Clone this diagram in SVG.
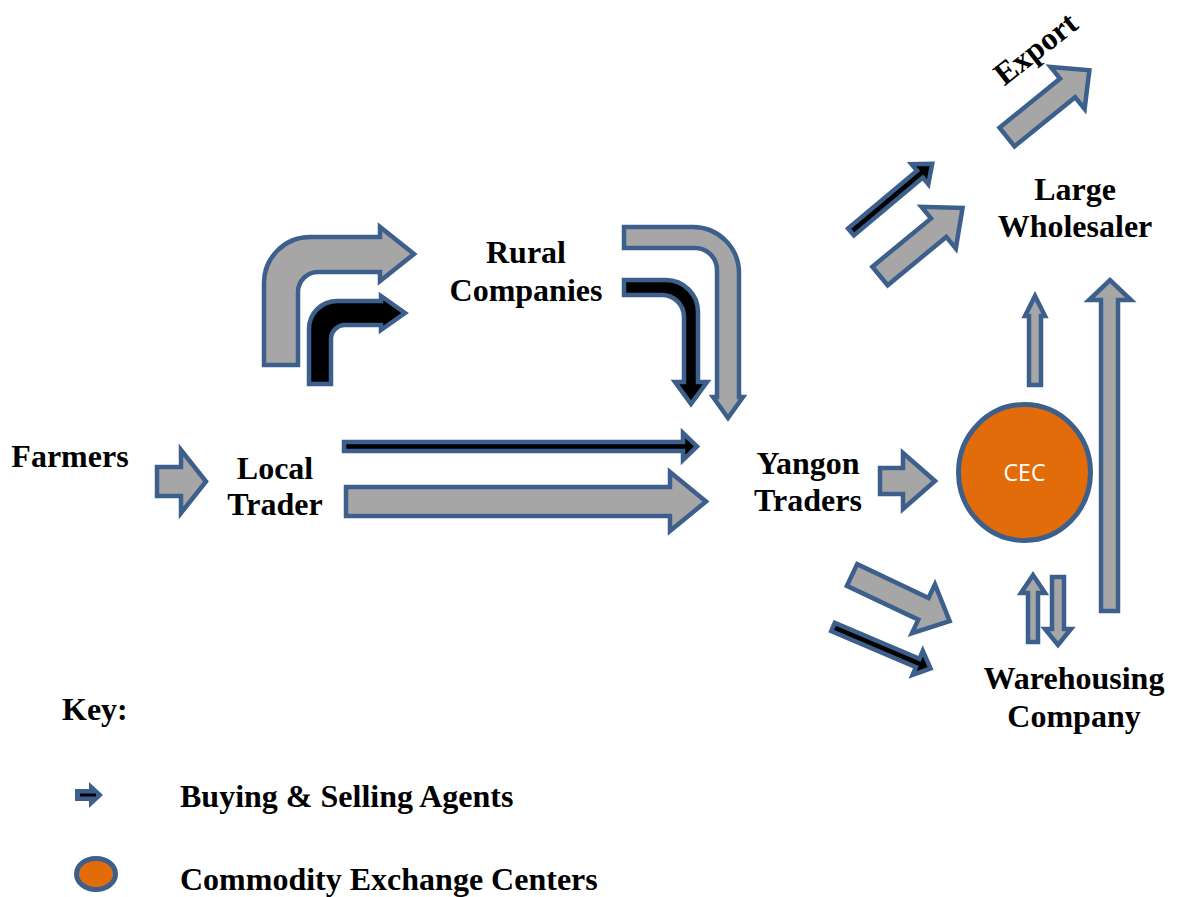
<svg xmlns="http://www.w3.org/2000/svg" width="1182" height="897" viewBox="0 0 1182 897">
  <style>
    .g { fill:#A6A6A6; stroke:#3C5F8C; stroke-width:4.5; stroke-linejoin:miter; }
    .k { fill:#000000; stroke:#3C5F8C; stroke-width:4.5; stroke-linejoin:miter; }
    .lbl { font-family:"Liberation Serif","Times New Roman",serif; font-weight:bold; font-size:32px; fill:#000000; }
    .mid { text-anchor:middle; }
    .cec { fill:#E36C0A; stroke:#3C5F8C; stroke-width:5; }
  </style>
  <rect width="1182" height="897" fill="#FFFFFF"/>

  <!-- flow arrows -->
  <g id="connectors">
    <!-- farmers to local trader -->
    <path class="g" d="M157,467 H181 V450 L206,481.5 L181,513 V496 H157 Z"/>
    <!-- local trader to yangon traders (agents + direct) -->
    <path class="k" d="M344,442 H683 V433 L697,446.5 L683,460 V451 H344 Z"/>
    <path class="g" d="M346,487 H670 V472 L706,501.5 L670,531 V516 H346 Z"/>
    <!-- local trader up to rural companies -->
    <path class="g" d="M264,365 V283 A46,46 0 0 1 310,237 H380 V227 L414,254 L380,281 V272 H318 A20,20 0 0 0 298,292 V365 Z"/>
    <path class="k" d="M309,384 V329 A28,28 0 0 1 337,301 H381 V296 L405,313 L381,330 V325 H345 A14,14 0 0 0 331,339 V384 Z"/>
    <!-- rural companies down to yangon traders -->
    <path class="g" d="M624,227 H693 A46,46 0 0 1 739,273 V397 H743 L728,418 L713,397 H717 V270 A22,22 0 0 0 695,248 H624 Z"/>
    <path class="k" d="M624,280 H666 A32,32 0 0 1 698,312 V382 H707 L691,404 L675,382 H684 V317 A22,22 0 0 0 662,295 H624 Z"/>
    <!-- yangon traders to CEC -->
    <path class="g" d="M880,468 H903 V453 L935,481 L903,509 V494 H880 Z"/>
    <!-- yangon traders to large wholesaler -->
    <path class="k" d="M0,-4.5 H90 V-13 L106,0 L90,13 V4.5 H0 Z" transform="translate(851,232) rotate(-40)"/>
    <path class="g" d="M0,-12 H76 V-27 L107,0 L76,27 V12 H0 Z" transform="translate(880,276) rotate(-39.5)"/>
    <!-- large wholesaler to export -->
    <path class="g" d="M0,-12 H78 V-27 L106,0 L78,27 V12 H0 Z" transform="translate(1007,137) rotate(-39)"/>
    <!-- yangon traders to warehousing company -->
    <path class="g" d="M0,-12 H79 V-27 L108,0 L79,27 V12 H0 Z" transform="translate(852,575) rotate(25.3)"/>
    <path class="k" d="M0,-4.5 H92 V-13 L106,0 L92,13 V4.5 H0 Z" transform="translate(833,627) rotate(23)"/>
    <!-- CEC to large wholesaler -->
    <path class="g" d="M1029,385 V316 H1025 L1035,296 L1045,316 H1041 V385 Z"/>
    <!-- warehousing company to large wholesaler -->
    <path class="g" d="M1101,611 V300 H1089 L1110,280 L1131,300 H1118 V611 Z"/>
    <!-- warehousing company to / from CEC -->
    <path class="g" d="M1028,642 V593 H1021 L1033,575 L1045,593 H1038 V642 Z"/>
    <path class="g" d="M1052,577 V629 H1045 L1058,645 L1071,629 H1064 V577 Z"/>
  </g>

  <g id="farmers"><text class="lbl mid" x="70" y="467">Farmers</text></g>
  <g id="local-trader">
    <text class="lbl mid" x="275" y="479">Local</text>
    <text class="lbl mid" x="275" y="515">Trader</text>
  </g>
  <g id="rural-companies">
    <text class="lbl mid" x="526" y="263">Rural</text>
    <text class="lbl mid" x="526" y="301">Companies</text>
  </g>
  <g id="yangon-traders">
    <text class="lbl mid" x="808" y="474">Yangon</text>
    <text class="lbl mid" x="808" y="511">Traders</text>
  </g>
  <g id="large-wholesaler">
    <text class="lbl mid" x="1075" y="200">Large</text>
    <text class="lbl mid" x="1075" y="237">Wholesaler</text>
  </g>
  <g id="export">
    <text class="lbl mid" x="0" y="0" transform="translate(1042,57) rotate(-38)">Export</text>
  </g>
  <g id="cec">
    <ellipse class="cec" cx="1024.5" cy="472.5" rx="66" ry="68"/>
    <text x="1024.5" y="481" text-anchor="middle" font-family="'Open Sans','Noto Sans',sans-serif" font-size="23" fill="#FFFFFF">CEC</text>
  </g>
  <g id="warehousing-company">
    <text class="lbl mid" x="1074" y="689">Warehousing</text>
    <text class="lbl mid" x="1074" y="727">Company</text>
  </g>

  <!-- legend -->
  <g id="key">
    <text class="lbl" x="62" y="720">Key:</text>
    <path d="M75,789 H89 V782 L103,795 L89,808 V801 H75 Z" fill="#3C5F8C"/>
    <line x1="80" y1="795" x2="96" y2="795" stroke="#000000" stroke-width="3"/>
    <text class="lbl" x="180" y="807">Buying &amp; Selling Agents</text>
    <ellipse class="cec" cx="96" cy="874" rx="19.5" ry="15.5"/>
    <text class="lbl" x="180" y="890">Commodity Exchange Centers</text>
  </g>
</svg>
